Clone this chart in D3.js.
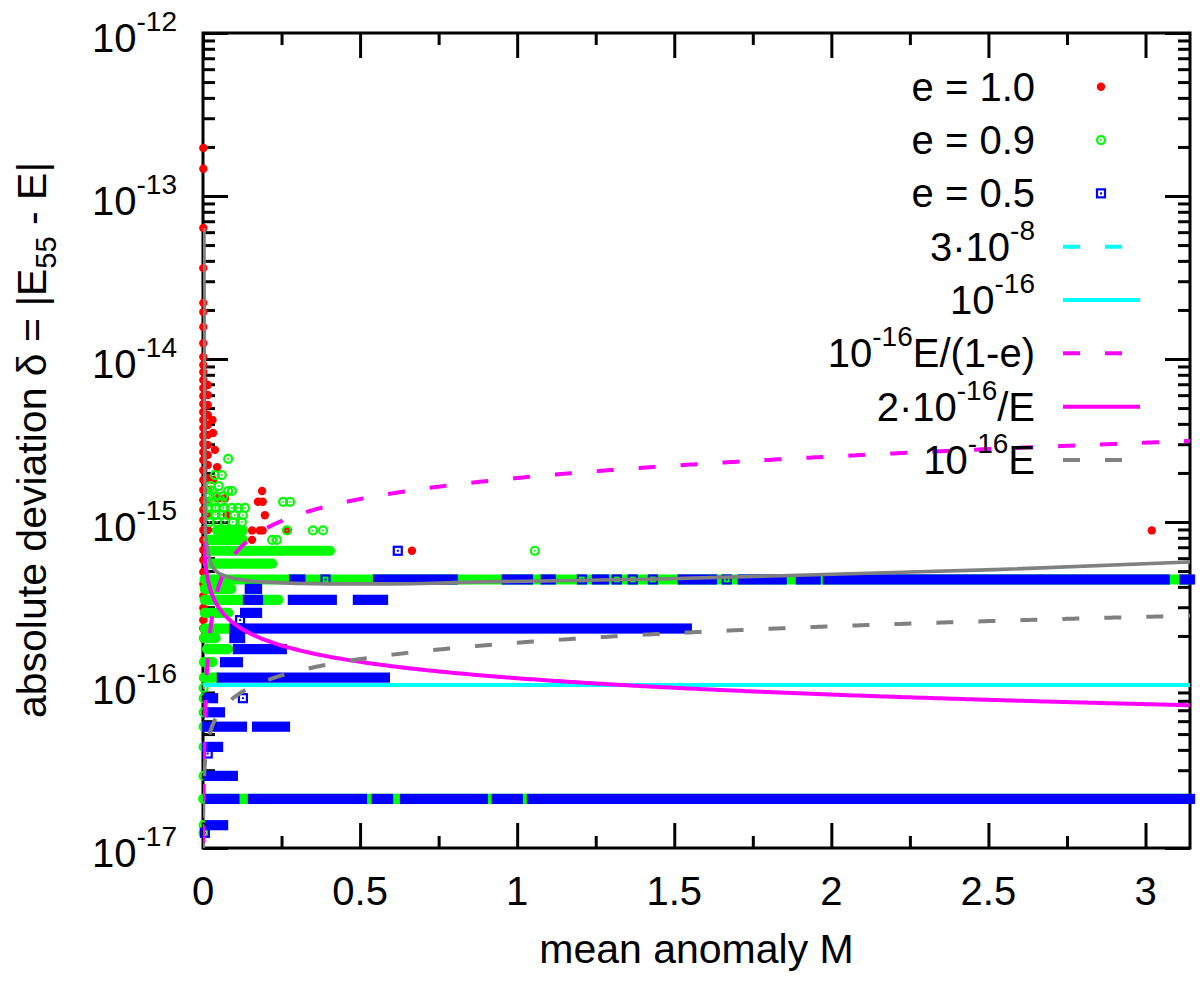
<!DOCTYPE html>
<html><head><meta charset="utf-8">
<script src="https://cdn.jsdelivr.net/npm/d3@7"></script>
<style>body{margin:0;background:#fff}svg{display:block}text{font-family:"Liberation Sans",Arial,Helvetica,sans-serif;fill:#000}</style>
</head><body><svg id="c" width="1200" height="981"></svg>
<script>
// ---------------- data ----------------
const xMajorTicks = [0, 0.5, 1, 1.5, 2, 2.5, 3];
const xMinorTicks = [0.25, 0.75, 1.25, 1.75, 2.25, 2.75];
const yDecades = [-17, -16, -15, -14, -13, -12];
const yMinorMult = [2, 3, 4, 5, 6, 7, 8, 9];

// e = 1.0 (red dots) [M, delta]
const e10Points = [
 [0.001,1.97e-13],[0.001,1.47e-13],[0.001,6.37e-14],[0.001,3.61e-14],[0.001,2.21e-14],[0.001,1.94e-14],
 [0.001,1.57e-14],[0.001,1.25e-14],[0.001,1.03e-14],[0.001,9.18e-15],[0.001,8.32e-15],[0.001,7.43e-15],
 [0.001,6.63e-15],[0.001,5.93e-15],[0.001,5.30e-15],[0.001,4.73e-15],[0.001,4.23e-15],[0.001,3.78e-15],
 [0.001,3.38e-15],[0.001,3.02e-15],[0.001,2.69e-15],[0.001,2.40e-15],[0.001,2.08e-15],[0.001,1.81e-15],
 [0.001,1.57e-15],[0.001,1.36e-15],[0.001,1.19e-15],[0.001,1.03e-15],[0.001,8.93e-16],[0.001,7.76e-16],
 [0.001,6.74e-16],[0.001,5.85e-16],[0.001,4.94e-16],[0.001,4.17e-16],[0.001,3.52e-16],[0.001,2.97e-16],
 [0.001,2.50e-16],[0.001,2.22e-16],[0.001,1.94e-16],
 [0.015,6.92e-15],[0.015,6.01e-15],[0.015,5.22e-15],[0.015,4.53e-15],[0.015,3.94e-15],[0.015,3.42e-15],
 [0.015,2.97e-15],[0.015,2.58e-15],[0.015,2.24e-15],[0.015,1.86e-15],[0.015,1.57e-15],[0.015,1.33e-15],
 [0.015,1.10e-15],[0.015,8.93e-16],
 [0.030,4.23e-15],[0.032,3.52e-15],[0.038,2.77e-15],[0.045,2.17e-15],[0.032,1.81e-15],
 [0.048,1.40e-15],[0.070,1.40e-15],[0.076,1.10e-15],[0.092,7.77e-16],[0.045,8.88e-16],[0.060,6.66e-16],
 [0.030,5.55e-16],[0.080,5.55e-16],[0.030,2.22e-16],[0.020,3.33e-16],
 [0.188,1.55e-15],[0.175,1.33e-15],[0.190,1.33e-15],[0.197,1.10e-15],[0.156,8.88e-16],[0.181,8.88e-16],
 [0.190,8.88e-16],[0.270,8.88e-16],[0.156,7.77e-16],[0.150,6.66e-16],[0.180,6.66e-16],[0.255,6.66e-16],
 [0.315,6.66e-16],[0.143,5.55e-16],[0.665,6.66e-16],[3.020,8.88e-16],
 [0.038,4.44e-16],[0.143,4.44e-16],[0.188,4.44e-16],[0.229,4.44e-16],[0.420,4.44e-16],[0.445,4.44e-16],
 [0.468,4.44e-16],[0.493,4.44e-16],[0.843,4.44e-16],[0.875,4.44e-16],[0.904,4.44e-16],[1.352,4.44e-16],
 [1.387,4.44e-16],[1.413,4.44e-16],[1.635,4.44e-16],[1.651,4.44e-16],[1.680,4.44e-16],[1.700,4.44e-16],
 [1.858,4.44e-16],[1.887,4.44e-16]
];

// e = 0.9 (green circles) [M, delta]
const e09Points = [
 [0.080,2.44e-15],[0.038,1.94e-15],[0.060,1.94e-15],[0.025,1.66e-15],[0.050,1.66e-15],
 [0.029,1.55e-15],[0.080,1.55e-15],[0.092,1.55e-15],[0.020,1.44e-15],[0.040,1.44e-15],[0.065,1.44e-15],
 [0.015,1.33e-15],[0.035,1.33e-15],[0.060,1.33e-15],[0.255,1.33e-15],[0.277,1.33e-15],
 [0.015,1.22e-15],[0.040,1.22e-15],[0.065,1.22e-15],[0.092,1.22e-15],[0.111,1.22e-15],[0.134,1.22e-15],
 [0.015,1.11e-15],[0.040,1.11e-15],[0.060,1.11e-15],[0.100,1.10e-15],[0.127,1.10e-15],
 [0.020,9.99e-16],[0.045,9.99e-16],[0.070,9.99e-16],[0.095,9.99e-16],[0.124,9.99e-16],
 [0.267,8.88e-16],[0.350,8.88e-16],[0.382,8.88e-16],[0.220,7.77e-16],[0.235,7.77e-16],[1.056,6.66e-16],
 [0.002,9.6e-17],[0.002,8.3e-17],[0.002,6.8e-17],[0.002,5.55e-17],[0.002,4.17e-17],[0.002,2.77e-17],
 [0.002,1.38e-17],[0.002,1.24e-17]
];
// e = 0.9 dense rows [delta, M from, M to]
const e09Runs = [
 [4.44e-16,0.005,3.1416],[2.0e-17,0.001,3.1416],[8.88e-16,0.045,0.127],[7.77e-16,0.016,0.127],
 [6.66e-16,0.016,0.404],[5.55e-16,0.016,0.220],[3.89e-16,0.006,0.090],[3.33e-16,0.006,0.240],
 [2.77e-16,0.006,0.080],[2.22e-16,0.006,0.100],[1.94e-16,0.003,0.040],[1.66e-16,0.013,0.080],
 [1.38e-16,0.003,0.030],[1.11e-16,0.003,0.045]
];

// e = 0.5 (blue squares) [M, delta]
const e05Points = [
 [0.390,4.44e-16],[1.206,4.44e-16],[1.317,4.44e-16],[1.368,4.44e-16],[1.432,4.44e-16],[1.667,4.44e-16],
 [0.620,6.66e-16],[0.118,2.5e-16],[0.127,8.3e-17],[0.015,3.8e-17],[0.006,1.24e-17]
];
// e = 0.5 dense rows [delta, M from, M to]
const e05Runs = [
 [4.44e-16,0.290,0.310],[4.44e-16,0.557,0.795],[4.44e-16,0.967,1.034],[4.44e-16,1.091,1.107],
 [4.44e-16,1.254,1.276],[4.44e-16,1.527,1.620],[4.44e-16,1.718,1.842],[4.44e-16,1.903,1.950],
 [4.44e-16,1.989,3.061],[4.44e-16,3.124,3.1416],
 [2.22e-16,0.100,1.540],
 [2.0e-17,0.016,0.100],[2.0e-17,0.159,0.506],[2.0e-17,0.553,0.589],[2.0e-17,0.643,0.891],
 [2.0e-17,0.935,1.002],[2.0e-17,1.047,3.1416],
 [1.11e-16,0.060,0.579],
 [3.33e-16,0.143,0.175],[3.33e-16,0.286,0.410],[3.33e-16,0.493,0.573],
 [2.77e-16,0.134,0.172],[3.89e-16,0.149,0.172],[1.94e-16,0.100,0.118],[1.66e-16,0.111,0.251],
 [1.38e-16,0.070,0.111],[8.3e-17,0.016,0.032],[6.8e-17,0.016,0.054],[5.55e-17,0.013,0.124],
 [5.55e-17,0.172,0.261],[4.17e-17,0.013,0.048],[2.77e-17,0.016,0.095],[1.38e-17,0.022,0.064]
];

// untitled gray solid curve [M, delta]
const graySolid = [
 [0.003,6.37e-14],[0.0045,5e-15],[0.006,1.5e-15],[0.008,8.6e-16],[0.022,5.85e-16],[0.038,5.08e-16],
 [0.08,4.6e-16],[0.19,4.29e-16],[0.40,4.17e-16],[0.61,4.17e-16],[0.88,4.29e-16],[1.45,4.47e-16],
 [2.03,4.8e-16],[2.52,5.1e-16],[3.1416,5.69e-16]
];

const legendNames = ["e = 1.0","e = 0.9","e = 0.5","3·10^-8","10^-16","10^-16E/(1-e)","2·10^-16/E","10^-16E"];

// ---------------- drawing ----------------
const svg = d3.select("#c");
const L = 203, R = 1190, T = 33, B = 848;
const x = d3.scaleLinear().domain([0, Math.PI]).range([L, R]);
const y = d3.scaleLog().domain([1e-17, 1e-12]).range([B, T]);
const RED = "#ff0000", GREEN = "#00ff00", BLUE = "#0000ff", CYAN = "#00ffff", MAG = "#ff00ff", GRAY = "#808080";

svg.append("rect").attr("width", 1200).attr("height", 981).attr("fill", "#fff");
svg.append("defs").append("clipPath").attr("id", "clip")
  .append("rect").attr("x", L).attr("y", T).attr("width", R - L).attr("height", B - T);

function tickGroup(gen, tr) {
  const g = svg.append("g").attr("transform", tr).call(gen);
  g.select(".domain").remove();
  g.selectAll("text").remove();
  g.selectAll("line").attr("stroke", "#000").attr("stroke-width", 3);
}
const yMajor = yDecades.map(e => Math.pow(10, e));
const yMinor = [];
yDecades.slice(0, -1).forEach(e => yMinorMult.forEach(m => yMinor.push(m * Math.pow(10, e))));
tickGroup(d3.axisBottom(x).tickValues(xMajorTicks).tickSize(-25).tickFormat(""), `translate(0,${B})`);
tickGroup(d3.axisBottom(x).tickValues(xMinorTicks).tickSize(-12).tickFormat(""), `translate(0,${B})`);
tickGroup(d3.axisTop(x).tickValues(xMajorTicks).tickSize(-25).tickFormat(""), `translate(0,${T})`);
tickGroup(d3.axisTop(x).tickValues(xMinorTicks).tickSize(-12).tickFormat(""), `translate(0,${T})`);
tickGroup(d3.axisLeft(y).tickValues(yMajor).tickSize(-25).tickFormat(""), `translate(${L},0)`);
tickGroup(d3.axisLeft(y).tickValues(yMinor).tickSize(-12).tickFormat(""), `translate(${L},0)`);
tickGroup(d3.axisRight(y).tickValues(yMajor).tickSize(-25).tickFormat(""), `translate(${R},0)`);
tickGroup(d3.axisRight(y).tickValues(yMinor).tickSize(-12).tickFormat(""), `translate(${R},0)`);
svg.append("rect").attr("x", L).attr("y", T).attr("width", R - L).attr("height", B - T)
  .attr("fill", "none").attr("stroke", "#000").attr("stroke-width", 3);

// tick labels
svg.append("g").selectAll("text").data(xMajorTicks).join("text")
  .attr("x", d => x(d)).attr("y", 905).attr("text-anchor", "middle")
  .style("font-size", "40px").text(d => String(d));
const yl = svg.append("g").selectAll("text").data(yDecades).join("text")
  .attr("x", 177).attr("y", d => y(Math.pow(10, d)) + 19).attr("text-anchor", "end")
  .style("font-size", "40px");
yl.append("tspan").text("10");
yl.append("tspan").attr("dy", -21).style("font-size", "28px").text(d => String(d));

// axis titles
svg.append("text").attr("x", (L + R) / 2).attr("y", 963).attr("text-anchor", "middle")
  .style("font-size", "41px").text("mean anomaly M");
const yt = svg.append("text").attr("transform", "translate(46,440) rotate(-90)")
  .attr("text-anchor", "middle").style("font-size", "41px");
yt.append("tspan").text("absolute deviation δ = |E");
yt.append("tspan").attr("dy", 10).style("font-size", "29px").text("55");
yt.append("tspan").attr("dy", -10).text(" - E|");

// markers
function redDot(g, cx, cy) { g.append("circle").attr("cx", cx).attr("cy", cy).attr("r", 4.2).attr("fill", RED); }
function greenRing(g, cx, cy) {
  g.append("circle").attr("cx", cx).attr("cy", cy).attr("r", 4).attr("fill", "none").attr("stroke", GREEN).attr("stroke-width", 2.2);
  g.append("circle").attr("cx", cx).attr("cy", cy).attr("r", 1).attr("fill", GREEN);
}
function blueSquare(g, cx, cy) {
  g.append("rect").attr("x", cx - 4).attr("y", cy - 4).attr("width", 8).attr("height", 8).attr("fill", "none").attr("stroke", BLUE).attr("stroke-width", 2.2);
  g.append("rect").attr("x", cx - 1).attr("y", cy - 1).attr("width", 2).attr("height", 2).attr("fill", BLUE);
}

const gRed = svg.append("g");
e10Points.forEach(d => redDot(gRed, x(d[0]), y(d[1])));

const gGreen = svg.append("g");
gGreen.selectAll("rect").data(e09Runs).join("rect")
  .attr("x", d => x(d[1]) - 5.1).attr("y", d => y(d[0]) - 5.1)
  .attr("width", d => x(d[2]) - x(d[1]) + 10.2).attr("height", 10.2)
  .attr("rx", 5).attr("fill", GREEN);
e09Points.forEach(d => greenRing(gGreen, x(d[0]), y(d[1])));

const gBlue = svg.append("g");
gBlue.selectAll("rect.run").data(e05Runs).join("rect").attr("class", "run")
  .attr("x", d => x(d[1]) - 5.1).attr("y", d => y(d[0]) - 5.1)
  .attr("width", d => x(d[2]) - x(d[1]) + 10.2).attr("height", 10.2)
  .attr("fill", BLUE);
e05Points.forEach(d => blueSquare(gBlue, x(d[0]), y(d[1])));

// curves
function keplerE(M, e) {
  let lo = 0, hi = Math.PI;
  for (let i = 0; i < 80; i++) { const mid = (lo + hi) / 2; if (mid - e * Math.sin(mid) < M) lo = mid; else hi = mid; }
  return (lo + hi) / 2;
}
const mGrid = d3.range(-4, -1.3, 0.02).map(p => Math.pow(10, p)).concat(d3.range(0.05, Math.PI, 0.01), [Math.PI]);
const gLines = svg.append("g").attr("clip-path", "url(#clip)");
const line = d3.line().x(d => x(d[0])).y(d => y(d[1]));
function drawCurve(pts, color, dashed, w, curve) {
  gLines.append("path").datum(pts).attr("d", curve ? line.curve(curve)(pts) : d3.line().x(d => x(d[0])).y(d => y(d[1]))(pts))
    .attr("fill", "none").attr("stroke", color).attr("stroke-width", w)
    .attr("stroke-dasharray", dashed ? "17,25" : null);
}
drawCurve([[0, 3e-8], [Math.PI, 3e-8]], CYAN, true, 4);
drawCurve([[0, 1e-16], [Math.PI, 1e-16]], CYAN, false, 4);
drawCurve(mGrid.map(m => [m, 1e-16 * keplerE(m, 0.9) / (1 - 0.9)]), MAG, true, 4);
drawCurve(mGrid.filter(m => m >= 0.003).map(m => [m, 2e-16 / Math.cbrt(6 * m)]), MAG, false, 4);
drawCurve(mGrid.map(m => [m, 1e-16 * Math.cbrt(6 * m)]), GRAY, true, 4);
drawCurve(graySolid, GRAY, false, 3.6, d3.curveMonotoneX);

// legend
const legX = 1035, sx0 = 1063, sx1 = 1140, smx = 1101;
const lg = svg.append("g");
legendNames.forEach((name, i) => {
  const cy = 86.7 + 53.33 * i;
  const t = lg.append("text").attr("x", legX).attr("y", cy + 14).attr("text-anchor", "end").style("font-size", "40px");
  const parts = name.split(/(\^-\d+)/);
  let raised = false;
  parts.forEach(p => {
    if (!p) return;
    if (p.startsWith("^")) {
      t.append("tspan").attr("dy", -21).style("font-size", "28px").text(p.slice(1));
      raised = true;
    } else {
      const ts = t.append("tspan").text(p);
      if (raised) { ts.attr("dy", 21); raised = false; }
    }
  });
  if (i === 0) redDot(lg, smx, cy);
  else if (i === 1) greenRing(lg, smx, cy);
  else if (i === 2) blueSquare(lg, smx, cy);
  else {
    const col = [CYAN, CYAN, MAG, MAG, GRAY][i - 3];
    const dashed = [true, false, true, false, true][i - 3];
    lg.append("line").attr("x1", sx0).attr("x2", sx1).attr("y1", cy).attr("y2", cy)
      .attr("stroke", col).attr("stroke-width", 4).attr("stroke-dasharray", dashed ? "17,25" : null);
  }
});
</script></body></html>
